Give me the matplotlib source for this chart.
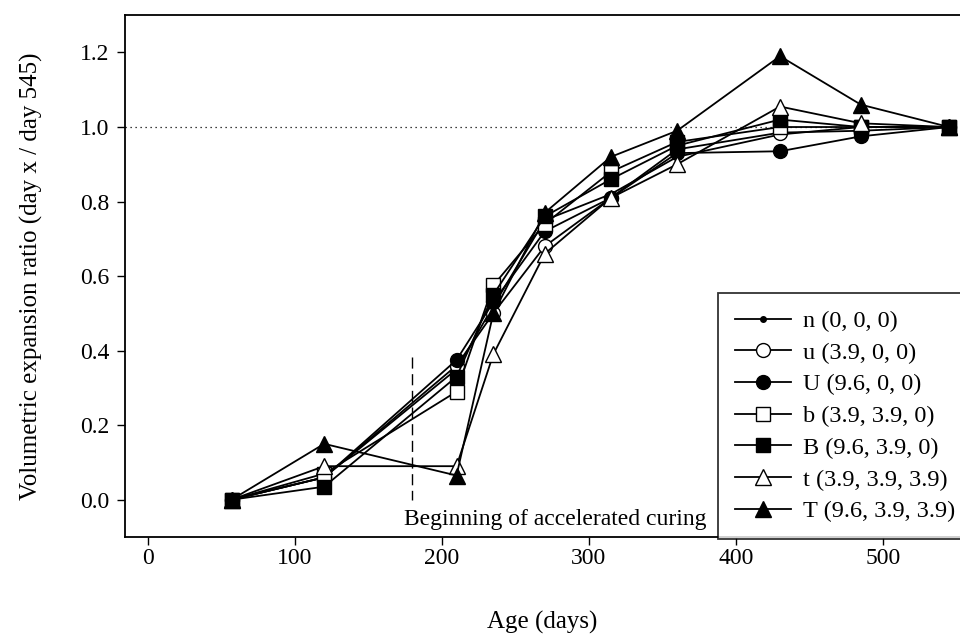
import matplotlib
matplotlib.use("Agg")
import matplotlib.pyplot as plt

plt.rcParams["font.family"] = ["Liberation Serif", "DejaVu Serif"]

days = [57, 120, 210, 235, 270, 315, 360, 430, 485, 545]

n_vals = [0.0, 0.06, 0.35, 0.52, 0.75, 0.82, 0.92, 0.98, 1.00, 1.0]
u_vals = [0.0, 0.06, 0.36, 0.50, 0.68, 0.81, 0.94, 0.985, 0.99, 1.0]
U_vals = [0.0, 0.06, 0.375, 0.53, 0.72, 0.81, 0.93, 0.935, 0.975, 1.0]
b_vals = [0.0, 0.07, 0.29, 0.575, 0.74, 0.88, 0.96, 1.00, 1.00, 1.0]
B_vals = [0.0, 0.035, 0.33, 0.55, 0.76, 0.86, 0.95, 1.02, 1.00, 1.0]
t_vals = [0.0, 0.09, 0.09, 0.39, 0.66, 0.81, 0.90, 1.055, 1.01, 1.0]
T_vals = [0.0, 0.15, 0.065, 0.50, 0.77, 0.92, 0.99, 1.19, 1.06, 1.0]

labels = ["n (0, 0, 0)", "u (3.9, 0, 0)", "U (9.6, 0, 0)", "b (3.9, 3.9, 0)",
          "B (9.6, 3.9, 0)", "t (3.9, 3.9, 3.9)", "T (9.6, 3.9, 3.9)"]

fig = plt.figure(figsize=(9.6, 6.34), dpi=100)
ax = fig.add_axes([0.130, 0.153, 0.870, 0.823])

# y=1 reference
ax.axhline(1.0, color="black", linestyle=(0, (1, 3)), linewidth=0.9)

# start of accelerated curing
ax.plot([180, 180], [0.383, 0.0], color="black", linestyle=(0, (8, 4)), linewidth=1.0)
ax.text(174, -0.052, "Beginning of accelerated curing", fontsize=17, va="center", ha="left")

kw = dict(color="black", linewidth=1.3, markeredgecolor="black", markeredgewidth=1.0)
ax.plot(days, n_vals, marker="o", markersize=4, markerfacecolor="black", label=labels[0], **kw)
ax.plot(days, u_vals, marker="o", markersize=10, markerfacecolor="white", label=labels[1], **kw)
ax.plot(days, U_vals, marker="o", markersize=10, markerfacecolor="black", label=labels[2], **kw)
ax.plot(days, b_vals, marker="s", markersize=10, markerfacecolor="white", label=labels[3], **kw)
ax.plot(days, B_vals, marker="s", markersize=10, markerfacecolor="black", label=labels[4], **kw)
ax.plot(days, t_vals, marker="^", markersize=11, markerfacecolor="white", label=labels[5], **kw)
ax.plot(days, T_vals, marker="^", markersize=11, markerfacecolor="black", label=labels[6], **kw)

ax.set_xlim(-15.6, 552.4)
ax.set_ylim(-0.1, 1.3)
ax.set_xticks([0, 100, 200, 300, 400, 500])
ax.set_yticks([0.0, 0.2, 0.4, 0.6, 0.8, 1.0, 1.2])
ax.set_yticklabels(["0.0", "0.2", "0.4", "0.6", "0.8", "1.0", "1.2"])
ax.tick_params(direction="out", length=6, width=1.0, labelsize=17, pad=5)
ax.tick_params(axis="x", pad=2)
for s in ax.spines.values():
    s.set_linewidth(1.3)
ax.spines["right"].set_visible(False)

ax.set_xlabel("Age (days)", fontsize=18, labelpad=30)
ax.set_ylabel("Volumetric expansion ratio (day x / day 545)", fontsize=18, labelpad=27)

leg = ax.legend(loc="upper left", bbox_to_anchor=(718 / 960, 1 - 293 / 634),
                bbox_transform=fig.transFigure, borderaxespad=0, fontsize=17.5,
                frameon=True, fancybox=False, handlelength=2.3, labelspacing=0.4,
                borderpad=0.7, handletextpad=0.5)
leg.get_frame().set_edgecolor("black")
leg.get_frame().set_linewidth(1.3)

fig.savefig("out.png", dpi=100)
